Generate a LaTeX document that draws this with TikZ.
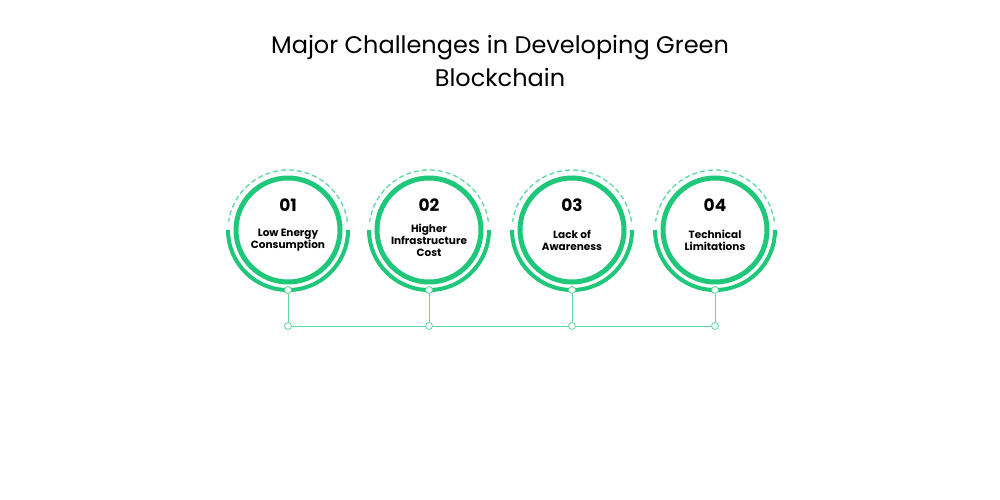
\documentclass[tikz,border=0pt]{standalone}
\usepackage{fontspec}
\setmainfont{Poppins}
\definecolor{gr}{HTML}{1FC77A}
\definecolor{lgr}{HTML}{5ED89C}
\begin{document}
\begin{tikzpicture}[x=1pt,y=-1pt,
  inner/.style={circle,draw=gr,line width=5pt,minimum size=104pt,inner sep=0pt,fill=white,align=center},
  dot/.style={circle,draw=lgr,fill=white,line width=0.8pt,minimum size=7pt,inner sep=0pt},
  conn/.style={draw=lgr,line width=1pt},
  lbl/.style={font=\fontsize{10.5}{12}\selectfont\bfseries,align=center},
  num/.style={font=\fontsize{17}{19}\selectfont\bfseries}]
\useasboundingbox (0,0) rectangle (1000,500);
\node[font=\fontsize{24}{33}\selectfont,align=center] (title) at (500,61) {Major Challenges in Developing Green\\Blockchain};
\foreach \i/\x/\n/\t in {1/288/01/{Low Energy\\Consumption},2/429/02/{Higher\\Infrastructure\\Cost},3/572/03/{Lack of\\Awareness},4/715/04/{Technical\\Limitations}}{
  \draw[gr,line width=4pt] ([shift={(180:60)}]\x,230) arc[start angle=180,end angle=0,radius=60];
  \draw[lgr,line width=1.3pt,dash pattern=on 5pt off 3pt] ([shift={(-8:60)}]\x,230) arc[start angle=-8,end angle=-172,radius=60];
  \node[inner] (c\i) at (\x,230) {};
  \node[num] (n\i) at (\x,205) {\n};
  \node[lbl] (t\i) at (\x,240) {\t};
  \node[dot] (d\i) at (\x,290) {};
  \node[dot] (b\i) at (\x,326) {};
  \draw[conn] (d\i) -- (b\i);
}
\draw[conn] (b1) -- (b2); \draw[conn] (b2) -- (b3); \draw[conn] (b3) -- (b4);
\end{tikzpicture}
\end{document}
